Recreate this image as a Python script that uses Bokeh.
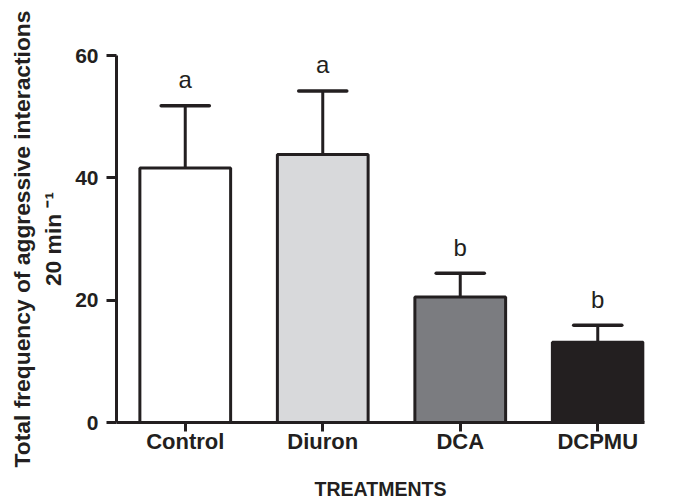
from bokeh.plotting import figure
from bokeh.models import Range1d, FixedTicker, ColumnDataSource
from bokeh.embed import file_html
from bokeh.resources import INLINE
from bokeh.core.properties import value

# ---- data ----
categories = ["Control", "Diuron", "DCA", "DCPMU"]
means = [41.6, 43.8, 20.5, 13.1]
sems = [10.2, 10.4, 3.9, 2.8]
letters = ["a", "a", "b", "b"]
colors = ["#ffffff", "#d8d9db", "#7b7c80", "#231f20"]
y_ticks = [0, 20, 40, 60]

xs = list(range(len(categories)))
tops = [m + s for m, s in zip(means, sems)]
cap = 0.175

src = ColumnDataSource(dict(
    x=xs, mean=means, top=tops, color=colors, letter=letters,
    cx0=[x - cap for x in xs], cx1=[x + cap for x in xs],
))

FONT = "Liberation Sans"
INK = "#231f20"

p = figure(width=674, height=502, output_backend="svg", toolbar_location=None,
           x_range=Range1d(-0.5, 3.34), y_range=Range1d(0, 60),
           min_border_left=116, min_border_top=55, min_border_right=30,
           min_border_bottom=80)
p.outline_line_color = None
p.grid.visible = False
p.background_fill_color = "white"

# error bars (upper only)
p.segment(x0="x", y0="mean", x1="x", y1="top", source=src,
          line_color=INK, line_width=3)
p.segment(x0="cx0", y0="top", x1="cx1", y1="top", source=src,
          line_color=INK, line_width=3.5, line_cap="round")

# bars
p.vbar(x="x", top="mean", bottom=0, width=0.66, source=src,
       fill_color="color", line_color=INK, line_width=3)

# significance letters
p.text(x="x", y="top", text="letter", source=src, text_align="center",
       text_baseline="alphabetic", y_offset=-26,
       text_font=value(FONT), text_font_size="24px", text_color=INK)

# axes
for ax in (p.xaxis[0], p.yaxis[0]):
    ax.axis_line_width = 3
    ax.axis_line_color = INK
    ax.major_tick_line_width = 3
    ax.major_tick_line_color = INK
    ax.minor_tick_line_color = None
    ax.major_tick_in = 0
    ax.major_label_text_font = FONT
    ax.major_label_text_font_style = "bold"
    ax.major_label_text_color = INK
    ax.axis_label_text_font = FONT
    ax.axis_label_text_font_style = "bold"
    ax.axis_label_text_color = INK

p.yaxis.ticker = FixedTicker(ticks=y_ticks)
p.yaxis.major_tick_out = 10
p.yaxis.major_label_standoff = 8
p.yaxis.major_label_text_font_size = "21px"
p.yaxis.axis_label = "Total frequency of aggressive interactions\n20 min \u207b\u00b9"
p.yaxis.axis_label_text_font_size = "22.8px"
p.yaxis.axis_label_standoff = 6

p.xaxis.ticker = FixedTicker(ticks=xs)
p.xaxis.major_label_overrides = {i: c for i, c in zip(xs, categories)}
p.xaxis.major_tick_out = 9
p.xaxis.major_label_standoff = -3
p.xaxis.major_label_text_font_size = "22px"
p.xaxis.axis_label = "TREATMENTS"
p.xaxis.axis_label_text_font_size = "19.5px"
p.xaxis.axis_label_standoff = 21

open("out.html", "w").write(file_html(p, INLINE))
